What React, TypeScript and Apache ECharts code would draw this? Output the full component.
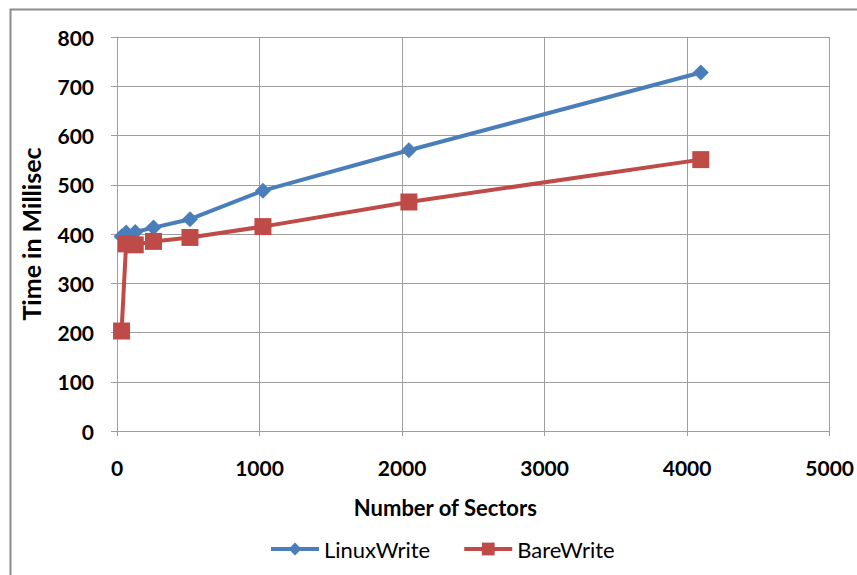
import React, { useEffect, useRef } from "react";
import * as echarts from "echarts";

// Transfer size in sectors
const sectors = [32, 64, 128, 256, 512, 1024, 2048, 4096];
// Write time in milliseconds
const linuxWrite = [395, 403, 404, 413, 430, 488, 570, 728];
const bareWrite = [203, 380, 378, 385, 393, 415, 465, 551];

const xTicks = { min: 0, max: 5000, interval: 1000 };
const yTicks = { min: 0, max: 800, interval: 100 };

const FONT = "Lato, 'Open Sans', sans-serif";

export default function App() {
  const ref = useRef<HTMLDivElement>(null);

  useEffect(() => {
    if (!ref.current) return;
    const chart = echarts.init(ref.current, undefined, { renderer: "svg" });
    const pair = (ys: number[]) => sectors.map((x, i) => [x, ys[i]]);
    const gridColor = "#9e9e9e";
    const labelStyle = { fontFamily: FONT, fontSize: 21, fontWeight: "bold", color: "#000" };
    chart.setOption({
      animation: false,
      backgroundColor: "#ffffff",
      textStyle: { fontFamily: FONT },
      graphic: [
        {
          type: "rect",
          left: 8,
          top: 7,
          shape: { width: 900, height: 620 },
          style: { fill: "none", stroke: "#8c8c8c", lineWidth: 2 },
          silent: true,
        },
      ],
      grid: { left: 117, right: 26, top: 37, bottom: 144, containLabel: false },
      legend: {
        top: 533,
        left: 264,
        itemWidth: 48,
        itemHeight: 16,
        itemGap: 32,
        lineStyle: { width: 4 },
        textStyle: { fontFamily: FONT, fontSize: 22, color: "#000" },
        data: ["LinuxWrite", "BareWrite"],
      },
      xAxis: {
        type: "value",
        ...xTicks,
        name: "Number of Sectors",
        nameLocation: "middle",
        nameGap: 65,
        nameTextStyle: { ...labelStyle, fontSize: 22, padding: [0, 56, 0, 0] },
        axisLine: { show: true, lineStyle: { color: gridColor, width: 1 } },
        axisTick: { show: true, length: 5, lineStyle: { color: gridColor } },
        axisLabel: { ...labelStyle, margin: 26, formatter: (v: number) => String(v) },
        splitLine: { show: true, lineStyle: { color: gridColor, width: 1 } },
      },
      yAxis: {
        type: "value",
        ...yTicks,
        name: "Time in Millisec",
        nameLocation: "middle",
        nameGap: 74,
        nameTextStyle: { ...labelStyle, fontSize: 25 },
        axisLine: { show: true, lineStyle: { color: gridColor, width: 1 } },
        axisTick: { show: true, length: 6, lineStyle: { color: gridColor } },
        axisLabel: { ...labelStyle, margin: 23 },
        splitLine: { show: true, lineStyle: { color: gridColor, width: 1 } },
      },
      series: [
        {
          name: "LinuxWrite",
          type: "line",
          data: pair(linuxWrite),
          symbol: "diamond",
          symbolSize: 16,
          lineStyle: { color: "#4a7ebb", width: 4 },
          itemStyle: { color: "#4a7ebb" },
          z: 2,
        },
        {
          name: "BareWrite",
          type: "line",
          data: pair(bareWrite),
          symbol: "rect",
          symbolSize: 17,
          lineStyle: { color: "#be4b48", width: 4 },
          itemStyle: { color: "#be4b48" },
          z: 3,
        },
      ],
    });
    return () => chart.dispose();
  }, []);

  return (
    <div
      ref={ref}
      style={{ position: "absolute", left: 0, top: 0, width: 857, height: 575 }}
    />
  );
}
